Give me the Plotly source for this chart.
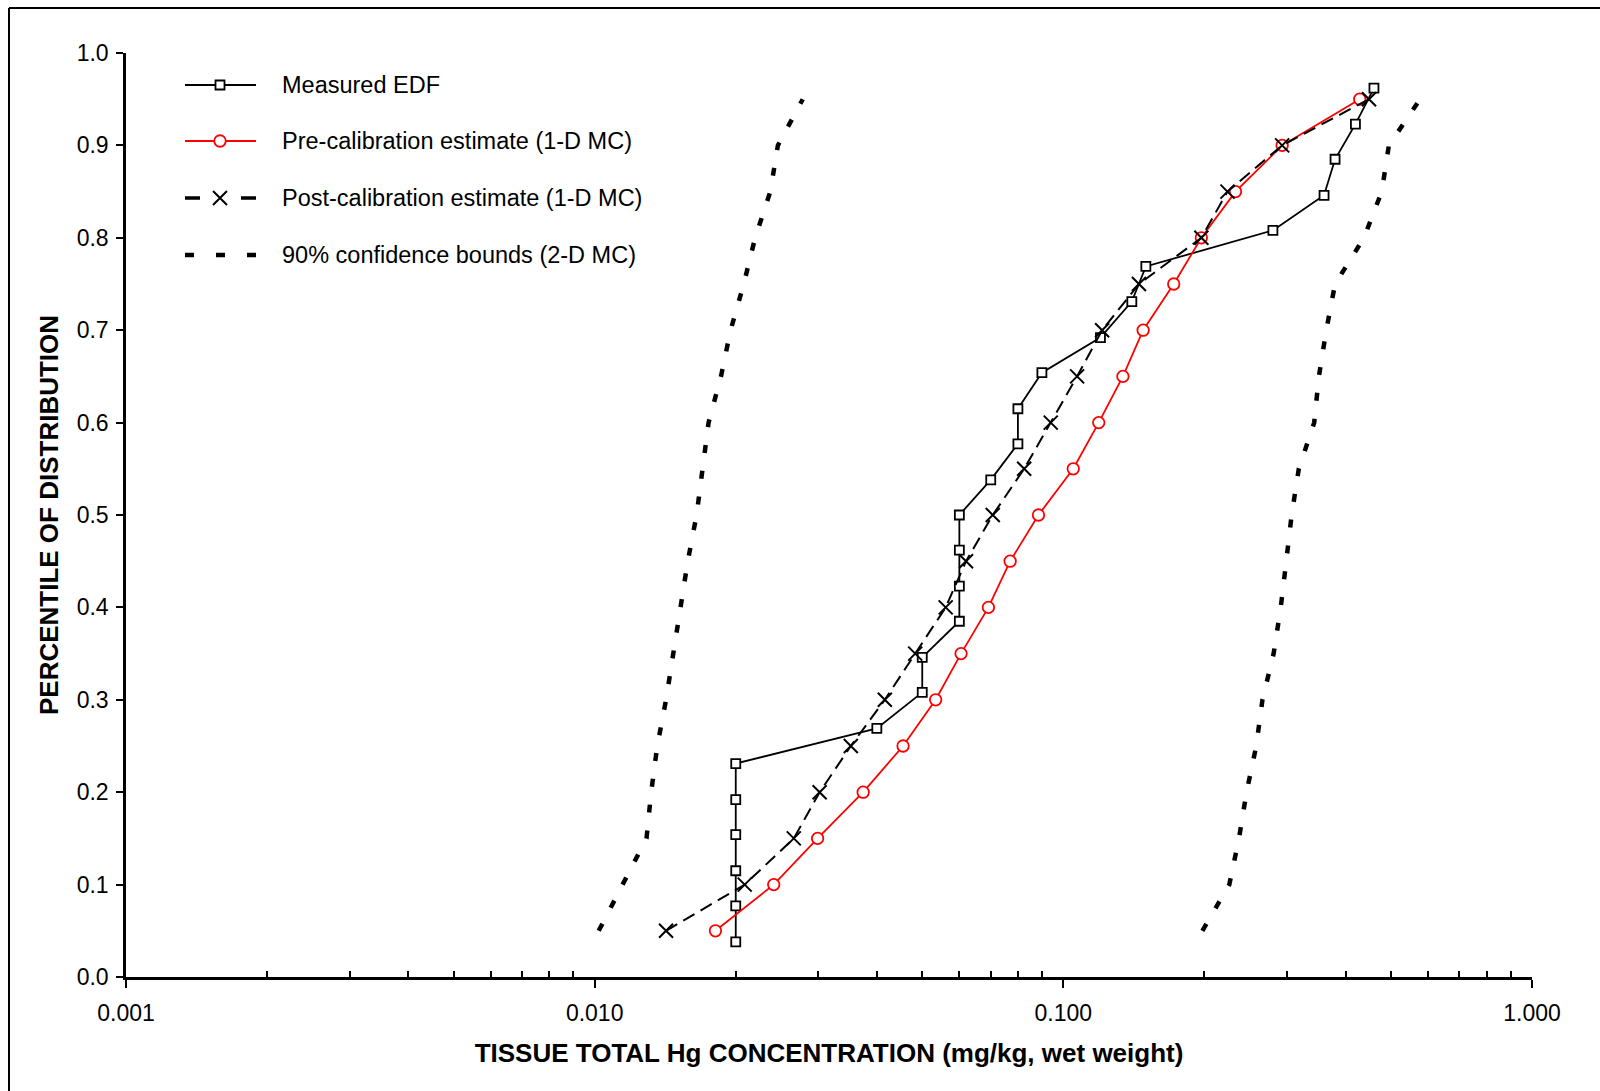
import plotly.graph_objects as go

# ---------------------------------------------------------------------------
# Data: tissue total Hg concentration (mg/kg wet weight) vs. percentile
# ---------------------------------------------------------------------------
edf_pct = [0.038, 0.077, 0.115, 0.154, 0.192, 0.231, 0.269, 0.308, 0.346,
           0.385, 0.423, 0.462, 0.500, 0.538, 0.577, 0.615, 0.654, 0.692,
           0.731, 0.769, 0.808, 0.846, 0.885, 0.923, 0.962]
edf_conc = [0.020, 0.020, 0.020, 0.020, 0.020, 0.020, 0.040, 0.050, 0.050,
            0.060, 0.060, 0.060, 0.060, 0.070, 0.080, 0.080, 0.090, 0.120,
            0.140, 0.150, 0.280, 0.360, 0.380, 0.420, 0.460]

mc_pct = [0.05, 0.10, 0.15, 0.20, 0.25, 0.30, 0.35, 0.40, 0.45, 0.50,
          0.55, 0.60, 0.65, 0.70, 0.75, 0.80, 0.85, 0.90, 0.95]
pre_conc = [0.0181, 0.0241, 0.0299, 0.0374, 0.0455, 0.0534, 0.0605, 0.0692,
            0.0770, 0.0885, 0.105, 0.119, 0.134, 0.148, 0.172, 0.197, 0.233,
            0.293, 0.429]
post_conc = [0.0142, 0.0209, 0.0266, 0.0302, 0.0352, 0.0416, 0.0483, 0.0561,
             0.0620, 0.0707, 0.0825, 0.0940, 0.107, 0.121, 0.145, 0.197,
             0.224, 0.293, 0.449]
lower_bound = [0.0102, 0.0115, 0.0129, 0.0132, 0.0136, 0.0142, 0.0147, 0.0152,
               0.0158, 0.0165, 0.0170, 0.0175, 0.0186, 0.0195, 0.0208, 0.0220,
               0.0237, 0.0246, 0.0278]
upper_bound = [0.198, 0.226, 0.237, 0.246, 0.258, 0.266, 0.281, 0.291, 0.299,
               0.307, 0.318, 0.343, 0.351, 0.364, 0.380, 0.438, 0.478, 0.495,
               0.577]

x_tickvals = [0.001, 0.01, 0.1, 1.0]
x_ticktext = ["0.001", "0.010", "0.100", "1.000"]
x_minor = [m * d for d in (0.001, 0.01, 0.1) for m in range(2, 10)]
y_tickvals = [0.0, 0.1, 0.2, 0.3, 0.4, 0.5, 0.6, 0.7, 0.8, 0.9, 1.0]

legend_labels = ["Measured EDF",
                 "Pre-calibration estimate (1-D MC)",
                 "Post-calibration estimate (1-D MC)",
                 "90% confidence bounds (2-D MC)"]

# ---------------------------------------------------------------------------
# Layout geometry (pixels)
# ---------------------------------------------------------------------------
W, H = 1600, 1091
PL, PR, PT, PB = 126, 68, 53, 114
X0, X1 = PL, W - PR
Y0, Y1 = H - PB, PT

FONT = "Liberation Sans, Arial, sans-serif"
RED = "#ff0000"


def px_to_paper_x(px):
    return (px - X0) / (X1 - X0)


def px_to_paper_y(py):
    return (Y0 - py) / (Y0 - Y1)


square_marker = dict(symbol="square", size=9, color="white",
                     line=dict(color="black", width=1.8))
circle_marker = dict(symbol="circle", size=11.5, color="white",
                     line=dict(color=RED, width=1.8))
cross_marker = dict(symbol="x-thin", size=14,
                    line=dict(color="black", width=2))

fig = go.Figure()

# confidence bounds
for vals in (lower_bound, upper_bound):
    fig.add_trace(go.Scatter(
        x=vals, y=mc_pct, mode="lines",
        line=dict(color="black", width=4.5, dash="8px,18px"),
        showlegend=False, hoverinfo="skip"))

# measured EDF
fig.add_trace(go.Scatter(
    x=edf_conc, y=edf_pct, mode="lines+markers",
    line=dict(color="black", width=1.8),
    marker=square_marker, showlegend=False))

# pre-calibration estimate
fig.add_trace(go.Scatter(
    x=pre_conc, y=mc_pct, mode="lines+markers",
    line=dict(color=RED, width=1.8),
    marker=circle_marker, showlegend=False))

# post-calibration estimate
fig.add_trace(go.Scatter(
    x=post_conc, y=mc_pct, mode="lines+markers",
    line=dict(color="black", width=2, dash="13px,7px"),
    marker=cross_marker, showlegend=False))

# ---------------------------------------------------------------------------
# Legend, drawn on a pixel-unit overlay axis
# ---------------------------------------------------------------------------
key_x0, key_x1, key_xm = 185, 256, 220
text_x = 280
row_y = [85, 141, 198, 255]

key_styles = [
    dict(line=dict(color="black", width=1.8), marker=square_marker),
    dict(line=dict(color=RED, width=1.8), marker=circle_marker),
    dict(line=dict(color="black", width=3.5, dash="15px,41px"),
         marker=cross_marker),
    dict(line=dict(color="black", width=4.5, dash="9px,22px"), marker=None),
]

for yk, st in zip(row_y, key_styles):
    fig.add_trace(go.Scatter(
        x=[key_x0, key_x1], y=[yk, yk], mode="lines", line=st["line"],
        xaxis="x2", yaxis="y2", showlegend=False, hoverinfo="skip"))
    if st["marker"] is not None:
        fig.add_trace(go.Scatter(
            x=[key_xm], y=[yk], mode="markers", marker=st["marker"],
            xaxis="x2", yaxis="y2", showlegend=False, hoverinfo="skip"))

annotations = [
    dict(x=text_x, y=yk, xref="x2", yref="y2", text=lab, showarrow=False,
         xanchor="left", yanchor="middle",
         font=dict(family=FONT, size=23.5, color="black"))
    for yk, lab in zip(row_y, legend_labels)
]

# frame lines along the top and left of the page
frame_x, frame_y = 9, 8
shapes = [
    dict(type="line", xref="paper", yref="paper",
         x0=px_to_paper_x(frame_x), x1=px_to_paper_x(W + 5),
         y0=px_to_paper_y(frame_y), y1=px_to_paper_y(frame_y),
         line=dict(color="black", width=2)),
    dict(type="line", xref="paper", yref="paper",
         x0=px_to_paper_x(frame_x), x1=px_to_paper_x(frame_x),
         y0=px_to_paper_y(frame_y), y1=px_to_paper_y(H + 5),
         line=dict(color="black", width=2)),
]

fig.update_layout(
    width=W, height=H,
    margin=dict(l=PL, r=PR, t=PT, b=PB, pad=0),
    paper_bgcolor="white", plot_bgcolor="white",
    font=dict(family=FONT, size=23, color="black"),
    showlegend=False,
    annotations=annotations,
    shapes=shapes,
    xaxis=dict(
        type="log", range=[-3, 0],
        tickmode="array", tickvals=x_tickvals, ticktext=x_ticktext,
        ticks="outside", ticklen=8, tickwidth=2, tickcolor="black",
        ticklabelstandoff=6,
        minor=dict(tickmode="array", tickvals=x_minor, ticks="inside",
                   ticklen=6, tickwidth=1.5, tickcolor="black", showgrid=False),
        showline=True, linecolor="black", linewidth=2.5,
        showgrid=False, zeroline=False,
        tickfont=dict(family=FONT, size=23),
        title=dict(text="<b>TISSUE TOTAL Hg CONCENTRATION (mg/kg, wet weight)</b>",
                   font=dict(family=FONT, size=26), standoff=19),
    ),
    yaxis=dict(
        range=[0, 1],
        tickmode="array", tickvals=y_tickvals, tickformat=".1f",
        ticks="outside", ticklen=7, tickwidth=2, tickcolor="black",
        ticklabelstandoff=3,
        showline=True, linecolor="black", linewidth=2.5,
        showgrid=False, zeroline=False,
        tickfont=dict(family=FONT, size=23),
        title=dict(text="<b>PERCENTILE OF DISTRIBUTION</b>",
                   font=dict(family=FONT, size=26), standoff=11),
    ),
    xaxis2=dict(overlaying="x", range=[X0, X1], visible=False,
                fixedrange=True),
    yaxis2=dict(overlaying="y", range=[Y0, Y1], visible=False,
                fixedrange=True),
)

fig.write_html("out.html")
